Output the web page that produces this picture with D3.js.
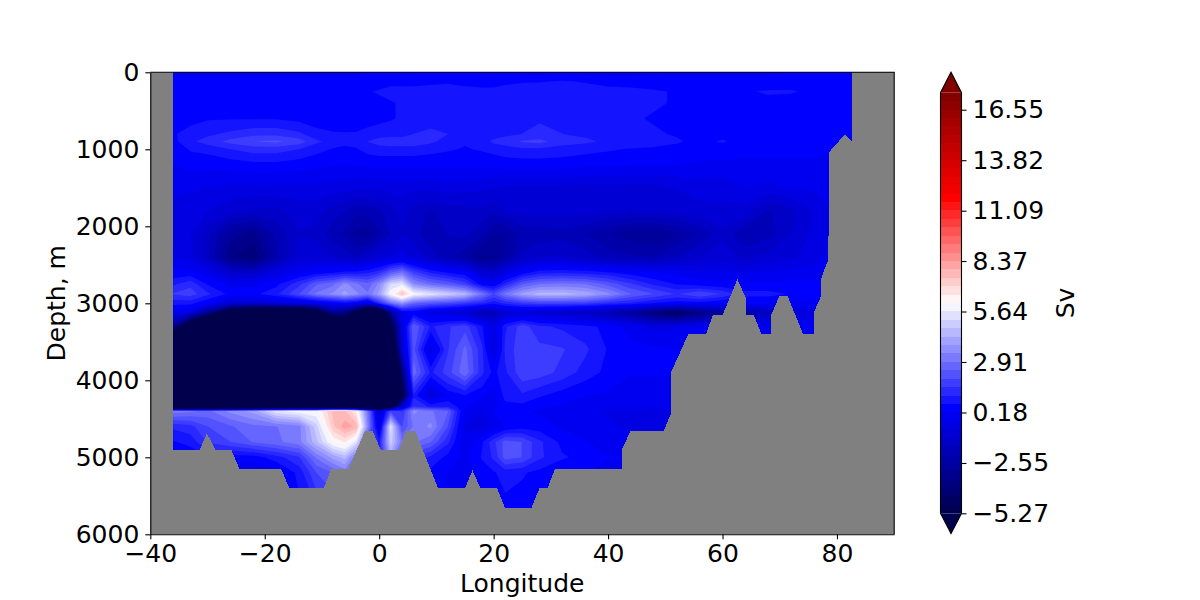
<!DOCTYPE html>
<html>
<head>
<meta charset="utf-8">
<script src="https://cdn.jsdelivr.net/npm/d3@7"></script>
<style>
  html, body { margin: 0; background: #fff; }
  text { font-family: "DejaVu Sans", sans-serif; }
</style>
</head>
<body>
<div id="chart"></div>
<script>
const lons = [-36,-33,-30,-26,-22,-18,-14,-11,-8,-6,  -4,-2,0,2,4,6,9,12,15,18,  20,22,25,28,32,36,40,44,48,52,  56,60,64,68,72,76,80,82.7];
const depths = [0,120,250,400,600,800,900,1000,1200,1500,1800,2100,2400,2600,2750,2880,3000,3120,3300,3600,3900,4200,4340,4400,4600,4800,5000,5200,5700];

// one row per depth, one value per longitude (Sv)
const sv = [
  [.1,.1,.1,.1,.1,.1,.1,.1,.1,.1,  .1,.2,.2,.2,.1,.2,.2,.2,.2,.2,  .1,.1,0,0,0,0,0,0,.1,.1,  .1,.1,.1,.1,.2,.2,.2,.2],
  [.3,.3,.3,.3,.3,.3,.3,.3,.3,.3,  .3,.4,.4,.5,.5,.5,.5,.6,.5,.4,  .4,.5,.6,.6,.7,.6,.4,.4,.4,.3,  .3,.3,.3,.3,.3,.3,.3,.3],
  [.5,.5,.5,.5,.5,.5,.4,.4,.3,.3,  .5,.6,.7,.8,.8,.8,.9,.8,.8,.8,  .8,.9,.9,1,.95,.9,.9,.8,.7,.6,  .5,.5,.6,.7,.7,.5,.3,.3],
  [.55,.55,.55,.55,.5,.5,.4,.3,.2,.2,  .2,.3,.5,.6,.7,.85,.95,.9,.9,.9,  .95,1,1.05,1.05,1,.95,.9,.9,.7,.6,  .6,.5,.6,.5,.4,.3,.2,.2],
  [.4,.5,.6,.6,.6,.6,.5,.4,.3,.2,  .3,.3,.5,.6,.7,.85,.9,.9,.9,.9,  .9,.95,1,1.05,1,.9,.8,.7,.6,.5,  .5,.5,.4,.4,.3,.3,.2,.2],
  [.6,.8,1,1.2,1.4,1.4,1.2,.8,.7,.7,  .7,.9,.9,.9,.9,1.1,1.2,1.1,.9,.8,  .9,1,1.1,1.2,1.1,1,.9,.8,.7,.6,  .5,.5,.4,.4,.4,.3,.3,.3],
  [.5,1,1.3,1.7,2,2.1,1.8,1.2,.9,.8,  .8,1.1,1.3,1.4,1.4,1.4,1.2,.9,.7,.9,  1.2,1.3,1.6,1.7,1.3,1.2,1,1,1,.7,  .5,.7,.4,.4,.3,.3,.3,.3],
  [.3,.7,.8,1.1,1.3,1.3,1.1,.8,.6,.5,  .6,.8,.9,.9,.9,.9,.8,.7,.6,.7,  .8,.9,1,1,.9,.8,.7,.6,.5,.5,  .4,.4,.3,.3,.3,.3,.2,.2],
  [.2,.3,.3,.4,.5,.5,.4,.3,.2,.2,  .2,.3,.3,.3,.3,.3,.3,.3,.3,.3,  .3,.4,.4,.4,.4,.3,.3,.2,.2,.2,  .1,.1,.1,.1,.1,.1,.1,.1],
  [-.2,-.2,-.3,-.4,-.4,-.4,-.4,-.4,-.5,-.5,  -.6,-.6,-.6,-.5,-.5,-.6,-.6,-.5,-.6,-.6,  -.7,-.8,-.8,-.8,-.8,-.9,-.9,-.9,-.9,-.7,  -.5,-.6,-.3,-.4,-.2,-.2,.1,.1],
  [-.4,-.5,-.7,-1,-1.3,-1.3,-1,-1,-1.4,-1.6,  -1.9,-1.9,-1.7,-1.4,-1,-1.4,-1.7,-1.4,-1.3,-1.3,  -1.5,-1.2,-1,-1,-1,-1,-1.1,-1.2,-1.1,-1,  -.9,-.8,-.9,-1.7,-1.3,-.7,-.2,0],
  [-.3,-.7,-1.5,-2.7,-3.2,-2,-1.2,-1.3,-1.9,-2.2,  -2.7,-2.8,-2.2,-1.6,-1.2,-1.4,-2,-1.6,-1.5,-2,  -2.6,-2.6,-2,-1.9,-1.8,-2.1,-2.5,-2.8,-3,-2.6,  -2,-1.3,-2,-1.8,-1.2,-.6,-.1,.1],
  [-.2,-.6,-1.5,-3.4,-3.9,-2.2,-1,-.9,-1.2,-1.4,  -1.6,-1.2,-.8,-.7,-.5,-.8,-1.4,-1.9,-2.4,-3.2,  -3,-2.5,-1.5,-1.2,-1.1,-1.4,-1.8,-2,-2.1,-1.6,  -1.2,-.9,-1.3,-1,-.8,-.5,0,.1],
  [.3,.3,-.2,-1.2,-1.3,-.5,.1,.4,.6,.8,  .8,1,1.4,2.4,3,1.8,1,.6,.3,-1,  -1.2,-.4,.4,.9,1,.9,.7,.4,.2,0,  -.2,-.2,-.3,-.2,-.1,0,.1,.1],
  [1,1.4,.6,0,0,.5,1.4,2.4,2.8,3.5,  3,2.6,3.5,5.2,5.5,3.5,2.8,2.4,1.8,.4,  .2,1.2,2.4,2.9,3,2.9,2.3,1.6,1,.6,  .4,.3,.3,.3,.3,.3,.1,.1],
  [1.6,1.8,1.2,.5,.5,1,2,3,3.5,4,  3.5,3,4,6,7.5,6,5.5,5,4.5,3,  2,3,4,4.5,4.5,4.2,3.5,2.5,2,1.5,  2,1.5,.8,.8,.6,.4,.2,.2],
  [.8,.8,.2,-1,-1,-.8,-.6,-.3,.2,.4,  .2,-.5,1.2,2.8,3.6,2.6,2.2,2,1.6,1.2,  .8,1.2,1.6,1.8,1.8,1.7,1.3,1,.6,.4,  .4,.2,.2,.2,.1,.1,.1,.1],
  [0,-.5,-3,-7,-9,-9,-9,-7,-3,-3.5,  -6,-10,-9,-3,0,.3,-.5,-.8,-1,-2,  -1.8,-1,-.8,-1,-1.3,-1.5,-2,-2.7,-3.8,-4.6,  -3.5,-2.5,-2.5,-1.5,-1,-.5,0,0],
  [-3,-8,-12,-12,-12,-12,-12,-12,-10,-8,  -11,-12,-10,-6,-.5,2.5,1,1.5,1.8,.7,  -.5,1,1.8,1.2,1,.8,.5,0,-.5,-.3,  0,0,0,0,0,0,0,0],
  [-12,-12,-12,-12,-12,-12,-12,-12,-12,-12,  -12,-12,-12,-9,-1,2.2,-.5,1.5,2.6,1.2,  -.8,1.2,1.9,1.7,1.6,1.2,.6,.3,.3,.2,  .1,.1,.1,.1,.1,.1,.1,.1],
  [-12,-12,-12,-12,-12,-12,-12,-12,-12,-12,  -12,-12,-12,-10,-4,2.8,1,1.8,2.8,1.2,  .5,1,1.9,1.8,1.4,.9,.5,.2,.2,.2,  .1,.1,.1,.1,.1,.1,.1,.1],
  [-12,-12,-12,-12,-12,-12,-12,-12,-12,-12,  -12,-12,-12,-12,-6,1,-.8,.3,.6,.3,  0,.8,1,.7,.4,.2,.1,.1,.1,.1,  .1,.1,.1,.1,.1,.1,.1,.1],
  [-12,-12,-12,-12,-12,-12,-12,-12,-12,-12,  -12,-12,-12,-7,-1,1.5,1,1,.3,-.3,  0,.5,.5,.3,.1,0,-.1,-.1,-.1,-.1,  -.1,-.1,-.1,-.1,-.1,-.1,-.1,-.1],
  [3.2,3,2.8,3.5,4,5.5,6,6,7.6,7.5,  6.5,3,-1,2,1.5,3.5,3,2.5,0,-.3,  .2,.4,.3,.1,-.1,-.2,-.3,-.5,-.5,-.5,  -.5,-.5,-.5,-.5,-.5,-.5,-.5,-.5],
  [1.2,1.4,2,2.4,2.8,2.9,3.2,5,7.4,8.2,  7.8,3.4,-.5,5.5,2,3,3.5,2,-.3,-.6,  -.2,.2,.4,.4,.1,0,-.2,-.4,-.5,-.5,  -.5,-.5,-.5,-.5,-.5,-.5,-.5,-.5],
  [.6,.8,1.6,2,2.5,2.8,3.2,4.6,6.2,6.6,  5.5,2,1,5,3,3,2.5,1.2,-.2,.6,  1.4,2.2,2,1.2,.5,.2,0,0,0,0,  0,0,0,0,0,0,0,0],
  [.2,.3,.6,.4,.4,.9,1.5,3,4,4.5,  3,2,1,4,1.5,1.5,1,.5,0,.7,  1.2,2.2,2,1.2,.7,.5,.2,.2,.2,.2,  .2,.2,.2,.2,.2,.2,.2,.2],
  [0,0,-.2,-.2,-.3,0,.8,2,2.5,3,  2,1.5,1,2,.8,.8,.5,.2,0,.4,  .6,.8,.7,.5,.3,.2,.1,.1,.1,.1,  .1,.1,.1,.1,.1,.1,.1,.1],
  [0,0,-.2,-.2,-.3,0,.5,1,1.5,2,  1.5,1,.8,1,.5,.5,.3,.1,0,.2,  .4,.5,.4,.3,.2,.1,.1,.1,.1,.1,  .1,.1,.1,.1,.1,.1,.1,.1]
];

// sea floor outline, vertices
const bottomLon = [-36,-31.4,-30.1,-28.6,-25.8,-24.4,-17.1,-15.7,-9.7,-8.4,-5.4,-2.5,-1.1,.3,3.4,4.7,6.3,10.3,15,16.3,17.7,20.6,22,26.6,28,29.4,30.7,42.5,42.5,43.9,49.7,51,51,54,57.1,58.3,60,62.6,64.1,64.1,65.5,66.8,68.5,68.5,69.9,71.4,74.1,75.9,75.9,77.2,77.3,78.5,78.6,81.4,82.9];
const bottomDepth = [4910,4910,4690,4910,4910,5156,5156,5403,5403,5156,5156,4663,4663,4910,4910,4663,4663,5403,5403,5169,5403,5403,5658,5658,5403,5403,5156,5156,4883,4663,4663,4430,3896,3403,3403,3156,3156,2688,2935,3156,3156,3403,3403,3156,2910,2910,3403,3403,3130,2910,2660,2430,1040,805,922];

const xTicks = [-40,-20,0,20,40,60,80];
const yTicks = [0,1000,2000,3000,4000,5000,6000];
const cbTicks = [-5.27,-2.55,.18,2.91,5.64,8.37,11.09,13.82,16.55];
const levelMin = -5.27, levelMax = 17.47, levelCount = 50;

const width = 1200, height = 600;
const fontSize = 25;
const minus = d => String(d).replace("-", "\u2212");

// matplotlib "seismic"
const seismic = d3.scaleLinear()
    .domain([0, .25, .5, .75, 1])
    .range(["#00004c", "#0000ff", "#ffffff", "#ff0000", "#800000"]);
const levelStep = (levelMax - levelMin) / levelCount;
const levels = d3.range(levelCount).map(i => levelMin + i * levelStep);
const levelColor = l => seismic((l + levelStep / 2 - levelMin) / (levelMax - levelMin));

const svg = d3.select("#chart").append("svg")
    .attr("width", width)
    .attr("height", height)
    .style("display", "block");

const x = d3.scaleLinear().domain([-40, 90]).range([150.3, 894.2]);
const y = d3.scaleLinear().domain([0, 6000]).range([72.3, 534.3]);

// grid index to data, the depths and longitudes are not evenly spaced
const lonOfIndex = d3.scaleLinear().domain(d3.range(lons.length)).range(lons).clamp(true);
const depthOfIndex = d3.scaleLinear().domain(d3.range(depths.length)).range(depths).clamp(true);

const plot = svg.append("g");

plot.append("rect")
    .attr("x", x(-40))
    .attr("y", y(0))
    .attr("width", x(90) - x(-40))
    .attr("height", y(6000) - y(0))
    .attr("fill", "#808080");

plot.append("rect")
    .attr("x", x(lons[0]))
    .attr("y", y(0))
    .attr("width", x(lons[lons.length - 1]) - x(lons[0]))
    .attr("height", y(6000) - y(0))
    .attr("fill", seismic(0))
    .attr("shape-rendering", "crispEdges");

const contours = d3.contours().size([lons.length, depths.length]).smooth(true);
const flat = sv.flat();

function ringPath(ring) {
    return "M" + ring.map(p => [x(lonOfIndex(p[0] - .5)), y(depthOfIndex(p[1] - .5))].join(",")).join("L") + "Z";
}

plot.selectAll("path.band")
    .data(levels)
    .enter()
    .append("path")
    .attr("class", "band")
    .attr("d", l => contours.contour(flat, l).coordinates.map(poly => poly.map(ringPath).join("")).join(""))
    .attr("fill", levelColor)
    .attr("fill-rule", "evenodd");

const floor = d3.area()
    .x((d, i) => x(bottomLon[i]))
    .y0(y(6000))
    .y1(d => y(d));

plot.append("path")
    .attr("d", floor(bottomDepth))
    .attr("fill", "#808080")
    .attr("shape-rendering", "crispEdges");

// right hand land block
plot.append("rect")
    .attr("x", x(82.7))
    .attr("y", y(0))
    .attr("width", x(90) - x(82.7))
    .attr("height", y(6000) - y(0))
    .attr("fill", "#808080")
    .attr("shape-rendering", "crispEdges");

const xAxis = svg.append("g")
    .attr("transform", `translate(0,${y(6000)})`)
    .call(d3.axisBottom(x).tickValues(xTicks).tickSize(5).tickSizeOuter(0).tickPadding(5).tickFormat(minus));
const yAxis = svg.append("g")
    .attr("transform", `translate(${x(-40)},0)`)
    .call(d3.axisLeft(y).tickValues(yTicks).tickSize(5).tickSizeOuter(0).tickPadding(6).tickFormat(d => String(d)));

// top and right spines
svg.append("path")
    .attr("d", `M${x(-40)},${y(0)}H${x(90)}V${y(6000)}`)
    .attr("fill", "none")
    .attr("stroke", "#000")
    .attr("stroke-width", 1.1);

svg.append("text")
    .attr("x", (x(-40) + x(90)) / 2)
    .attr("y", 592)
    .attr("text-anchor", "middle")
    .attr("font-size", fontSize)
    .text("Longitude");

svg.append("text")
    .attr("transform", `translate(65,${(y(0) + y(6000)) / 2})rotate(-90)`)
    .attr("text-anchor", "middle")
    .attr("font-size", fontSize)
    .text("Depth, m");

// colorbar
const cb = { left: 940.5, right: 961.5, tipTop: 72.3, tipBottom: 533.6 };
const c = d3.scaleLinear().domain([levelMin, levelMax]).range([513.3, 92.7]);

const colorbar = svg.append("g");

colorbar.selectAll("rect")
    .data(levels)
    .enter()
    .append("rect")
    .attr("x", cb.left)
    .attr("width", cb.right - cb.left)
    .attr("y", l => c(l + levelStep))
    .attr("height", l => c(l) - c(l + levelStep))
    .attr("fill", levelColor)
    .attr("shape-rendering", "crispEdges");

colorbar.append("path")
    .attr("d", `M${cb.left},${c(levelMax)}L${(cb.left + cb.right) / 2},${cb.tipTop}L${cb.right},${c(levelMax)}Z`)
    .attr("fill", seismic(1));
colorbar.append("path")
    .attr("d", `M${cb.left},${c(levelMin)}L${(cb.left + cb.right) / 2},${cb.tipBottom}L${cb.right},${c(levelMin)}Z`)
    .attr("fill", seismic(0));
colorbar.append("path")
    .attr("d", `M${cb.left},${c(levelMin)}L${(cb.left + cb.right) / 2},${cb.tipBottom}L${cb.right},${c(levelMin)}V${c(levelMax)}L${(cb.left + cb.right) / 2},${cb.tipTop}L${cb.left},${c(levelMax)}Z`)
    .attr("fill", "none")
    .attr("stroke", "#000")
    .attr("stroke-width", 1.1);

const cbAxis = svg.append("g")
    .attr("transform", `translate(${cb.right},0)`)
    .call(d3.axisRight(c).tickValues(cbTicks).tickSize(5).tickSizeOuter(0).tickPadding(6).tickFormat(d => minus(d3.format(".2f")(d))));
cbAxis.select(".domain").remove();

[xAxis, yAxis, cbAxis].forEach(a => {
    a.selectAll("text").attr("font-size", fontSize).attr("font-family", '"DejaVu Sans", sans-serif');
    a.selectAll("line").attr("stroke-width", 1.1);
    a.select(".domain").attr("stroke-width", 1.1);
});

svg.append("text")
    .attr("transform", `translate(1074,${(c(levelMin) + c(levelMax)) / 2})rotate(-90)`)
    .attr("text-anchor", "middle")
    .attr("font-size", fontSize)
    .text("Sv");
</script>
</body>
</html>
